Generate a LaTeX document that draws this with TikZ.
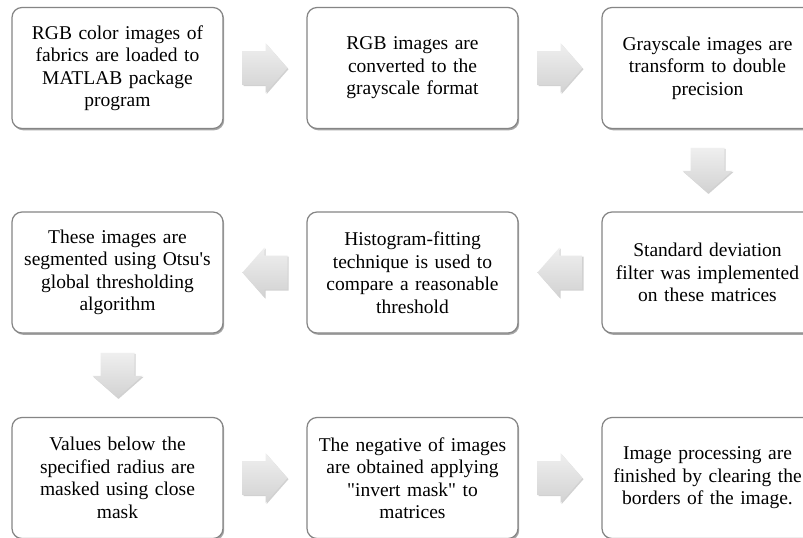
\documentclass[tikz,border=0pt]{standalone}
\usepackage{fontspec}
\setmainfont{Liberation Serif}[Ligatures=TeXOff]
\usetikzlibrary{shadows,calc}
\definecolor{boxline}{HTML}{858585}
\definecolor{arrtop}{HTML}{EFEFEF}
\definecolor{arrbot}{HTML}{D2D2D2}
\tikzset{
  stepbox/.style={rectangle, rounded corners=10pt, draw=boxline, line width=1.2pt,
    fill=white, minimum width=211pt, minimum height=121pt, text width=205pt,
    align=center, inner sep=0pt,
    font=\fontsize{19.5}{22.5}\selectfont,
    drop shadow={shadow xshift=1.2pt, shadow yshift=-1.8pt, opacity=0.35, fill=black}},
  blockarrow/.style={top color=arrtop, bottom color=arrbot, draw=none,
    drop shadow={shadow xshift=1pt, shadow yshift=-1.2pt, opacity=0.18, fill=black}}
}
\newcommand{\blockarr}[2]{%
  \begin{scope}[shift={(#1)}, rotate=#2]
    \path[blockarrow] (-22.5,-17) -- (0.5,-17) -- (0.5,-25) -- (22.5,0) -- (0.5,25) -- (0.5,17) -- (-22.5,17) -- cycle;
  \end{scope}}
\begin{document}
\begin{tikzpicture}[x=1pt,y=-1pt]
\useasboundingbox (0,0) rectangle (803,538);
\clip (0,0) rectangle (803,538);
\fill[white] (0,0) rectangle (803,538);
% row 1
\node[stepbox] (b1) at (117.5,68) {RGB color images of\\fabrics are loaded to\\MATLAB package\\program};
\node[stepbox] (b2) at (412.5,68) {RGB images are\\converted to the\\grayscale format};
\node[stepbox] (b3) at (707.5,68) {Grayscale images are\\transform to double\\precision};
% row 2
\node[stepbox] (b4) at (707.5,272.5) {Standard deviation\\filter was implemented\\on these matrices};
\node[stepbox] (b5) at (412.5,272.5) {Histogram-fitting\\technique is used to\\compare a reasonable\\threshold};
\node[stepbox] (b6) at (117.5,272.5) {These images are\\segmented using Otsu's\\global thresholding\\algorithm};
% row 3
\node[stepbox] (b7) at (117.5,478) {Values below the\\specified radius are\\masked using close\\mask};
\node[stepbox] (b8) at (412.5,478) {The negative of images\\are obtained applying\\"invert mask" to\\matrices};
\node[stepbox] (b9) at (707.5,478) {Image processing are\\finished by clearing the\\borders of the image.};
% arrows
\coordinate (a12) at ($(b1.east)!0.5!(b2.west)$);
\coordinate (a23) at ($(b2.east)!0.5!(b3.west)$);
\coordinate (a34) at ($(b3.south)!0.5!(b4.north)$);
\coordinate (a45) at ($(b4.west)!0.5!(b5.east)$);
\coordinate (a56) at ($(b5.west)!0.5!(b6.east)$);
\coordinate (a67) at ($(b6.south)!0.5!(b7.north)$);
\coordinate (a78) at ($(b7.east)!0.5!(b8.west)$);
\coordinate (a89) at ($(b8.east)!0.5!(b9.west)$);
\blockarr{a12}{0}
\blockarr{a23}{0}
\blockarr{a34}{-90}
\blockarr{a45}{180}
\blockarr{a56}{180}
\blockarr{a67}{-90}
\blockarr{a78}{0}
\blockarr{a89}{0}
\end{tikzpicture}
\end{document}
